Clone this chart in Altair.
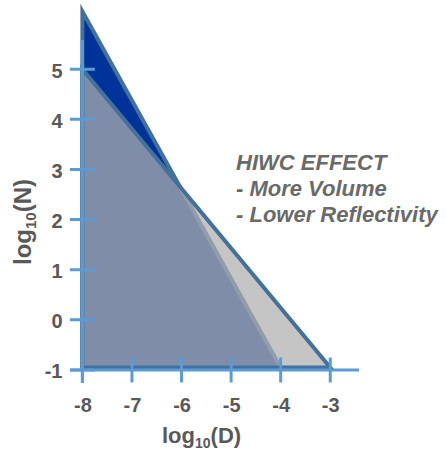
import altair as alt
import pandas as pd

# ---- data ----
X_TICKS = [-8, -7, -6, -5, -4, -3]
Y_TICKS = [-1, 0, 1, 2, 3, 4, 5]
X_DOMAIN = [-8.25, -2.42]
Y_DOMAIN = [-1.26, 6.26]
Y_AXIS_EXTENT = [-1.26, 5.58]
AXIS_X_AT = -8
AXIS_Y_AT = -1

# HIWC (steeper) size distribution triangle
HIWC_X = [-8.0, -4.0]
HIWC_Y = [6.15, -0.95]
# reference size distribution triangle
NORM_X = [-8.0, -3.0]
NORM_Y = [5.0, -0.95]
BASE_Y = -0.95

NOTE_LINES = ["HIWC EFFECT", "- More Volume", "- Lower Reflectivity"]
X_TITLE = ["log", "10", "(D)"]
Y_TITLE = ["log", "10", "(N)"]

# ---- styles ----
AXIS_BLUE = "#5B9BD5"
EDGE = "#41719C"
DARK = "#003399"
GREY = "#AFAFAF"
LABEL = "#595959"
NOTE = "#6A6A6A"
FONT = "Liberation Sans"
W, H = 289, 377

xs = alt.Scale(domain=X_DOMAIN, nice=False, zero=False)
ys = alt.Scale(domain=Y_DOMAIN, nice=False, zero=False)

x_axis = alt.Axis(values=X_TICKS, labelExpr="'' + datum.value", domain=False, ticks=False,
                  grid=False, labelPadding=12, labelFontSize=20, labelFontWeight="bold",
                  labelColor=LABEL, labelFont=FONT, title=None)
y_axis = alt.Axis(values=Y_TICKS, labelExpr="'' + datum.value", domain=False, ticks=False,
                  grid=False, labelPadding=8, labelOffset=2, labelFontSize=20,
                  labelFontWeight="bold", labelColor=LABEL, labelFont=FONT, title=None)

def X(f="x"):
    return alt.X(f"{f}:Q", scale=xs, axis=x_axis)

def Y(f="y"):
    return alt.Y(f"{f}:Q", scale=ys, axis=y_axis)

hiwc = pd.DataFrame({"x": HIWC_X, "y": HIWC_Y, "y2": [BASE_Y] * len(HIWC_X)})
norm = pd.DataFrame({"x": NORM_X, "y": NORM_Y, "y2": [BASE_Y] * len(NORM_X)})

hiwc_area = alt.Chart(hiwc).mark_area(
    fill=DARK, fillOpacity=1, stroke=EDGE, strokeWidth=4, strokeJoin="miter"
).encode(x=X(), y=Y(), y2="y2:Q")

norm_area = alt.Chart(norm).mark_area(
    fill=GREY, fillOpacity=0.73, stroke=EDGE, strokeWidth=4, strokeJoin="miter"
).encode(x=X(), y=Y(), y2="y2:Q")

xline = alt.Chart(pd.DataFrame({"x": [X_DOMAIN[0]], "x2": [X_DOMAIN[1]], "y": [AXIS_Y_AT]})).mark_rule(
    color=AXIS_BLUE, strokeWidth=3
).encode(x=X(), x2="x2:Q", y=Y())

yline = alt.Chart(pd.DataFrame({"x": [AXIS_X_AT], "y": [Y_AXIS_EXTENT[0]], "y2": [Y_AXIS_EXTENT[1]]})).mark_rule(
    color=AXIS_BLUE, strokeWidth=3
).encode(x=X(), y=Y(), y2="y2:Q")

xticks = alt.Chart(pd.DataFrame({"x": X_TICKS, "y": [AXIS_Y_AT] * len(X_TICKS)})).mark_tick(
    orient="vertical", size=25, thickness=3, color=AXIS_BLUE, opacity=1
).encode(x=X(), y=Y())

yticks = alt.Chart(pd.DataFrame({"x": [AXIS_X_AT] * len(Y_TICKS), "y": Y_TICKS})).mark_tick(
    orient="horizontal", size=25, thickness=3, color=AXIS_BLUE, opacity=1
).encode(x=X(), y=Y())

one = pd.DataFrame({"a": [0]})

def txt(s, x, y, size, align="left", angle=0, color=LABEL, style="normal"):
    kw = dict(text=s, font=FONT, fontSize=size, fontWeight="bold", color=color,
              align=align, baseline="alphabetic", fontStyle=style)
    if angle:
        kw["angle"] = angle
    return alt.Chart(one).mark_text(**kw).encode(x=alt.value(x), y=alt.value(y))

titles = [
    txt(X_TITLE[0], 125, 437, 22, align="right"),
    txt(X_TITLE[1], 125, 442, 14),
    txt(X_TITLE[2], 140.6, 437, 22),
    txt(Y_TITLE[0], -39, 223, 24, align="right", angle=270),
    txt(Y_TITLE[1], -34, 223, 15, angle=270),
    txt(Y_TITLE[2], -39, 206.3, 24, angle=270),
]

note = alt.Chart(one).mark_text(
    font=FONT, fontSize=22, fontWeight="bold", fontStyle="italic", color=NOTE,
    align="left", baseline="alphabetic", lineHeight=26
).encode(x=alt.value(166), y=alt.value(164), text=alt.value(NOTE_LINES))

chart = alt.layer(hiwc_area, norm_area, xline, yline, xticks, yticks, *titles, note).properties(
    width=W, height=H, autosize="none",
    padding={"left": 70, "top": 6, "right": 87, "bottom": 71}
).configure_view(stroke=None)

chart.save("out.html", embed_options={"renderer": "svg", "actions": False})
